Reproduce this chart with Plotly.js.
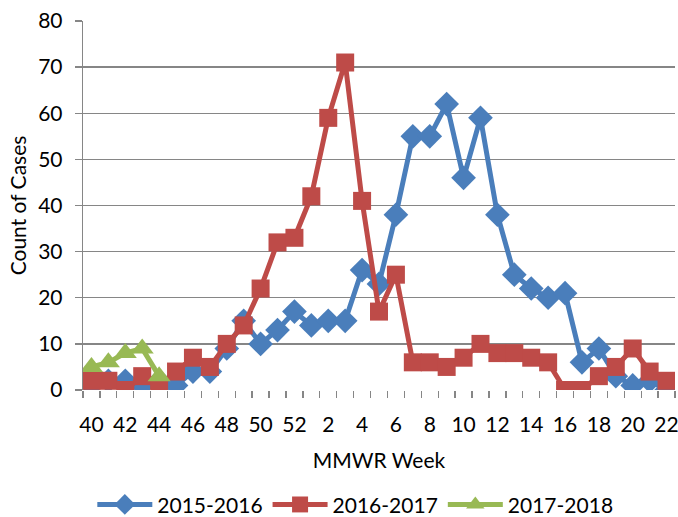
<!DOCTYPE html>
<html>
<head>
<meta charset="utf-8">
<script src="https://cdn.plot.ly/plotly-3.0.1.min.js"></script>
<style>
html,body{margin:0;padding:0;background:#fff;}
#chart{width:678px;height:517px;}
</style>
</head>
<body>
<div id="chart"></div>
<script>
// MMWR weeks (season runs week 40 through week 22 of next year)
const weeks = [40,41,42,43,44,45,46,47,48,49,50,51,52,1,2,3,4,5,6,7,8,9,10,11,12,13,14,15,16,17,18,19,20,21,22];
const s2015_2016 = [1,2,2,1,2,1,4,4,9,15,10,13,17,14,15,15,26,23,38,55,55,62,46,59,38,25,22,20,21,6,9,3,1,2,0];
const s2016_2017 = [2,2,0,3,1,4,7,5,10,14,22,32,33,42,59,71,41,17,25,6,6,5,7,10,8,8,7,6,0,0,3,5,9,4,2];
const s2017_2018 = [5,6,8,9,3];
const seriesNames = ["2015-2016","2016-2017","2017-2018"];
const colors = ["#4A7EBB","#BE4B48","#98B954"];
const yTicks = [0,10,20,30,40,50,60,70,80];

const xIdx = weeks.map((w,i)=>i);
const tickIdx = xIdx.filter(i=>i%2===0);
const tickTxt = tickIdx.map(i=>String(weeks[i]));

const font = "Lato, 'Open Sans', sans-serif";
const fs = 21;

const traces = [
  {x:xIdx, y:s2015_2016, name:seriesNames[0], type:"scatter", mode:"lines+markers",
   line:{color:colors[0], width:5}, marker:{symbol:"diamond", size:19, color:colors[0]}},
  {x:xIdx, y:s2016_2017, name:seriesNames[1], type:"scatter", mode:"lines+markers",
   line:{color:colors[1], width:5}, marker:{symbol:"square", size:18, color:colors[1]}},
  {x:xIdx.slice(0,s2017_2018.length), y:s2017_2018, name:seriesNames[2], type:"scatter", mode:"lines+markers",
   line:{color:colors[2], width:5}, marker:{symbol:"triangle-up", size:20, color:colors[2]}}
];

const layout = {
  width:678, height:517,
  margin:{l:83, r:3, t:21, b:127, autoexpand:false},
  paper_bgcolor:"#fff", plot_bgcolor:"#fff",
  font:{family:font, size:fs, color:"#000"},
  showlegend:true,
  legend:{orientation:"h", x:0.46, xanchor:"center", y:-0.311, yanchor:"middle",
          font:{family:font, size:fs, color:"#000"}, itemwidth:55, traceorder:"normal"},
  xaxis:{type:"linear", range:[-0.5,34.5], tickmode:"array", tickvals:tickIdx, ticktext:tickTxt, tickangle:0,
         showgrid:false, zeroline:false, showline:false, ticks:"", ticklabelstandoff:20, ticklabeloverflow:"allow",
         minor:{ticks:"outside", tick0:-0.5, dtick:1, ticklen:7, tickcolor:"#868686", tickwidth:1.3, showgrid:false},
         tickfont:{family:font, size:fs, color:"#000"},
         title:{text:"MMWR Week", font:{family:font, size:fs, color:"#000"}, standoff:18}},
  yaxis:{range:[0,80], tickmode:"array", tickvals:yTicks, showgrid:true, gridcolor:"#868686", gridwidth:1.3,
         zeroline:false, showline:true, linecolor:"#868686", linewidth:1.3, ticks:"outside", ticklen:7,
         tickcolor:"#868686", tickwidth:1.3, ticklabelstandoff:8, tickfont:{family:font, size:fs, color:"#000"},
         title:{text:"Count of Cases", font:{family:font, size:fs, color:"#000"}, standoff:5}}
};

Plotly.newPlot("chart", traces, layout, {displayModeBar:false, staticPlot:true});
</script>
</body>
</html>
